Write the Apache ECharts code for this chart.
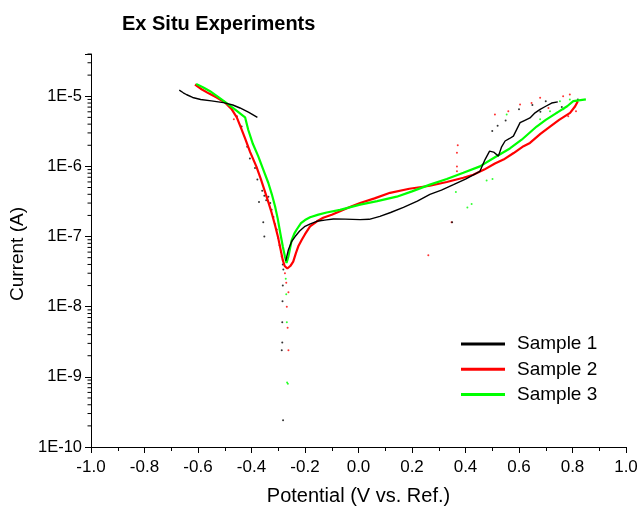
<!DOCTYPE html>
<html>
<head>
<meta charset="utf-8">
<script src="https://cdn.jsdelivr.net/npm/echarts@6/dist/echarts.min.js"></script>
<style>
html,body{margin:0;padding:0;background:#fff;}
#chart{width:640px;height:510px;}
</style>
</head>
<body>
<div id="chart"></div>
<script>
// ---- Data (Potential V, Current A) ----
const seriesNames = ['Sample 1', 'Sample 2', 'Sample 3'];
const seriesColors = ['#000000', '#ff0000', '#00ff00'];

const sample1Line = [
  [-0.670, 1.22e-5], [-0.655, 1.12e-5], [-0.642, 1.05e-5], [-0.620, 9.6e-6], [-0.590, 9.0e-6],
  [-0.550, 8.6e-6], [-0.505, 8.1e-6], [-0.470, 7.5e-6], [-0.443, 6.8e-6], [-0.410, 5.9e-6],
  [-0.378, 5.0e-6],
  ['-', '-'],
  [-0.272, 4.5e-8], [-0.262, 6.5e-8], [-0.250, 8.5e-8], [-0.237, 1.0e-7], [-0.220, 1.2e-7],
  [-0.200, 1.4e-7], [-0.180, 1.52e-7], [-0.156, 1.65e-7], [-0.120, 1.73e-7], [-0.094, 1.78e-7],
  [-0.050, 1.77e-7], [0.006, 1.74e-7], [0.040, 1.76e-7], [0.080, 1.94e-7], [0.120, 2.2e-7],
  [0.168, 2.6e-7], [0.220, 3.2e-7], [0.267, 4.0e-7], [0.310, 4.6e-7], [0.355, 5.5e-7],
  [0.400, 6.6e-7], [0.454, 8.5e-7], [0.473, 1.25e-6], [0.490, 1.65e-6], [0.505, 1.6e-6],
  [0.523, 1.4e-6], [0.535, 1.9e-6], [0.548, 2.3e-6], [0.565, 2.5e-6], [0.579, 2.7e-6],
  [0.604, 4.2e-6], [0.620, 4.5e-6], [0.641, 4.9e-6], [0.660, 5.8e-6], [0.679, 6.5e-6],
  [0.700, 7.2e-6], [0.722, 8.0e-6], [0.745, 8.3e-6]
];
const sample1Dots = [
  [-0.455, 5.2e-6], [-0.437, 3.7e-6], [-0.416, 1.9e-6], [-0.406, 1.3e-6], [-0.387, 9.5e-7],
  [-0.378, 6.5e-7], [-0.372, 3.1e-7], [-0.360, 4.5e-7], [-0.356, 1.6e-7], [-0.352, 1.0e-7],
  [-0.352, 3.8e-7], [-0.345, 3.3e-7], [-0.337, 3.7e-7], [-0.330, 3.0e-7], [-0.325, 2.4e-7],
  [-0.318, 1.9e-7], [-0.312, 1.5e-7], [-0.306, 1.26e-7], [-0.300, 9.5e-8], [-0.295, 7.5e-8],
  [-0.290, 6.0e-8], [-0.287, 5.2e-8], [-0.283, 4.0e-8], [-0.281, 3.4e-8], [-0.283, 2.0e-8],
  [-0.284, 1.2e-8], [-0.285, 6.0e-9], [-0.285, 3.1e-9], [-0.287, 2.4e-9], [-0.282, 2.4e-10],
  [0.350, 1.6e-7], [0.500, 3.2e-6], [0.520, 3.8e-6], [0.550, 4.5e-6], [0.600, 6.5e-6],
  [0.650, 7.5e-6], [0.680, 6.0e-6], [0.700, 8.5e-6], [0.760, 7.0e-6], [0.820, 9.0e-6]
];

const sample2Line = [
  [-0.611, 1.47e-5], [-0.590, 1.28e-5], [-0.560, 1.1e-5], [-0.530, 9.6e-6], [-0.500, 8.2e-6],
  [-0.475, 6.6e-6], [-0.455, 5.0e-6], [-0.440, 3.6e-6], [-0.424, 2.5e-6], [-0.405, 1.6e-6],
  [-0.382, 1.0e-6], [-0.365, 6.6e-7], [-0.350, 4.4e-7], [-0.337, 3.1e-7], [-0.325, 2.2e-7],
  [-0.312, 1.45e-7], [-0.300, 9.5e-8], [-0.290, 6.2e-8], [-0.283, 4.6e-8], [-0.276, 3.8e-8],
  [-0.266, 3.5e-8], [-0.255, 3.8e-8], [-0.244, 4.4e-8], [-0.234, 5.8e-8], [-0.224, 7.4e-8],
  [-0.212, 9.0e-8], [-0.200, 1.08e-7], [-0.181, 1.4e-7], [-0.155, 1.65e-7], [-0.132, 1.85e-7],
  [-0.100, 2.05e-7], [-0.069, 2.3e-7], [-0.030, 2.65e-7], [0.006, 3.0e-7], [0.060, 3.5e-7],
  [0.118, 4.2e-7], [0.190, 4.8e-7], [0.267, 5.3e-7], [0.330, 6.0e-7], [0.392, 6.9e-7],
  [0.429, 7.6e-7], [0.470, 9.0e-7], [0.510, 1.1e-6], [0.542, 1.25e-6], [0.580, 1.55e-6],
  [0.617, 1.94e-6], [0.641, 2.16e-6], [0.680, 2.9e-6], [0.716, 3.7e-6], [0.750, 4.6e-6],
  [0.791, 5.8e-6], [0.810, 7.2e-6], [0.820, 8.5e-6]
];
const sample2Dots = [
  [-0.466, 4.7e-6], [-0.275, 3.0e-8], [-0.270, 2.2e-8], [-0.262, 1.6e-8], [-0.268, 1.0e-8],
  [-0.265, 5.0e-9], [-0.262, 2.4e-9], [0.261, 5.4e-8], [0.348, 1.6e-7], [0.368, 8.5e-7],
  [0.368, 1.0e-6], [0.368, 1.56e-6], [0.371, 2.0e-6], [0.510, 5.5e-6], [0.560, 6.1e-6],
  [0.604, 7.6e-6], [0.647, 8.0e-6], [0.679, 9.5e-6], [0.710, 6.8e-6], [0.765, 1.0e-5],
  [0.784, 5.2e-6], [0.790, 1.06e-5], [0.813, 6.1e-6]
];

const sample3Line = [
  [-0.607, 1.5e-5], [-0.580, 1.33e-5], [-0.555, 1.18e-5], [-0.525, 9.8e-6], [-0.493, 8.0e-6],
  [-0.455, 6.2e-6], [-0.424, 5.0e-6], [-0.412, 3.3e-6], [-0.395, 2.1e-6], [-0.375, 1.4e-6],
  [-0.356, 9.0e-7], [-0.337, 5.8e-7], [-0.324, 4.0e-7], [-0.312, 2.7e-7], [-0.302, 1.8e-7],
  [-0.293, 1.15e-7], [-0.283, 7.2e-8], [-0.275, 5.2e-8], [-0.269, 4.2e-8], [-0.262, 5.2e-8],
  [-0.250, 8.8e-8], [-0.240, 1.1e-7], [-0.231, 1.26e-7], [-0.215, 1.55e-7], [-0.200, 1.72e-7],
  [-0.181, 1.88e-7], [-0.150, 2.05e-7], [-0.119, 2.2e-7], [-0.069, 2.4e-7],
  [0.006, 2.85e-7], [0.070, 3.2e-7], [0.143, 3.7e-7], [0.200, 4.4e-7], [0.267, 5.5e-7],
  [0.330, 6.6e-7], [0.392, 8.1e-7], [0.454, 1.0e-6], [0.510, 1.35e-6], [0.566, 1.8e-6],
  [0.610, 2.4e-6], [0.666, 3.7e-6], [0.700, 4.6e-6], [0.741, 5.8e-6], [0.780, 7.2e-6],
  [0.803, 8.5e-6], [0.850, 9.0e-6]
];
const sample3Dots = [
  [-0.272, 2.5e-8], [-0.270, 1.5e-8], [-0.268, 6.0e-9], [-0.267, 8.3e-10], [-0.264, 8.0e-10],
  [0.364, 4.3e-7], [0.407, 2.6e-7], [0.423, 2.9e-7], [0.479, 6.3e-7], [0.501, 6.6e-7],
  [0.554, 5.5e-6], [0.679, 4.7e-6], [0.716, 6.1e-6], [0.741, 5.8e-6], [0.753, 8.5e-6],
  [0.766, 6.5e-6], [0.790, 9.0e-6], [0.815, 8.5e-6]
];

// axis tick labels / ranges
const xTickLabels = ['-1.0','-0.8','-0.6','-0.4','-0.2','0.0','0.2','0.4','0.6','0.8','1.0'];
const yDecades = [-10, -9, -8, -7, -6, -5];
const yMin = 1e-10, yMax = 4e-5;
const minorMantissas = [2, 3, 4, 5, 6, 7, 8, 9];

// minor log ticks (axis decoration)
const yMinorTicks = [];
yDecades.forEach(d => minorMantissas.forEach(m => {
  const v = m * Math.pow(10, d);
  if (v <= yMax * 1.0001) yMinorTicks.push([-1, v]);
}));

const FONT = '"Liberation Sans", Arial, sans-serif';
const chart = echarts.init(document.getElementById('chart'), null, {renderer: 'canvas'});

const lineSeries = [sample2Line, sample3Line, sample1Line];
const dotSeries = [sample2Dots, sample3Dots, sample1Dots];
const order = [1, 2, 0];

const series = [];
order.forEach((idx, k) => {
  series.push({
    name: seriesNames[idx] + ' dots',
    type: 'scatter',
    data: dotSeries[k],
    symbolSize: 2,
    itemStyle: {color: seriesColors[idx]},
    silent: true,
    z: 2
  });
});
order.forEach((idx, k) => {
  series.push({
    name: seriesNames[idx],
    type: 'line',
    data: lineSeries[k],
    showSymbol: false,
    symbol: 'none',
    connectNulls: false,
    lineStyle: {color: seriesColors[idx], width: idx === 0 ? 1.4 : 2.2},
    itemStyle: {color: seriesColors[idx]},
    z: 3
  });
});
series.push({
  name: 'yMinor',
  type: 'custom',
  data: yMinorTicks,
  silent: true,
  clip: false,
  renderItem: function (params, api) {
    const p = api.coord([api.value(0), api.value(1)]);
    return {type: 'line', shape: {x1: p[0] - 3.5, y1: p[1], x2: p[0], y2: p[1]},
            style: {stroke: '#000', lineWidth: 1}};
  }
});

chart.setOption({
  backgroundColor: '#fff',
  animation: false,
  title: {
    text: 'Ex Situ Experiments',
    left: 117, top: 9,
    textStyle: {fontFamily: FONT, fontSize: 20, fontWeight: 'bold', color: '#000'}
  },
  legend: {
    data: seriesNames,
    orient: 'vertical',
    left: 456, top: 329,
    itemWidth: 44, itemHeight: 3, itemGap: 5.3,
    icon: 'rect',
    textStyle: {fontFamily: FONT, fontSize: 19, color: '#000', lineHeight: 20, padding: [0, 0, 0, 7]}
  },
  graphic: [{
    type: 'text',
    x: 18, y: 254,
    rotation: Math.PI / 2,
    style: {text: 'Current (A)', fontFamily: FONT, fontSize: 19, fill: '#000',
            align: 'center', verticalAlign: 'middle'}
  }],
  grid: {left: 91, right: 14, top: 54, bottom: 63, outerBoundsMode: 'none'},
  xAxis: {
    type: 'value', min: -1, max: 1, interval: 0.2,
    name: 'Potential (V vs. Ref.)', nameLocation: 'middle', nameGap: 39,
    nameTextStyle: {fontFamily: FONT, fontSize: 20, color: '#000'},
    axisLine: {show: true, onZero: false, lineStyle: {color: '#000', width: 1}},
    axisTick: {show: true, length: 6, lineStyle: {color: '#000'}},
    minorTick: {show: true, splitNumber: 2, length: 4, lineStyle: {color: '#000'}},
    splitLine: {show: false},
    axisLabel: {
      fontFamily: FONT, fontSize: 17, color: '#000', margin: 12,
      formatter: function (v) { return xTickLabels[Math.round((v + 1) / 0.2)]; }
    }
  },
  yAxis: {
    type: 'log', logBase: 10, min: yMin, max: yMax, interval: 1,
    axisLine: {show: true, onZero: false, lineStyle: {color: '#000', width: 1}},
    axisTick: {show: true, length: 6, lineStyle: {color: '#000'}},
    splitLine: {show: false},
    axisLabel: {
      fontFamily: FONT, fontSize: 16.5, color: '#000', margin: 9,
      formatter: function (v) {
        const e = Math.log10(v);
        if (Math.abs(e - Math.round(e)) > 1e-6) return '';
        return '1E' + Math.round(e);
      }
    }
  },
  series: series
});
</script>
</body>
</html>
